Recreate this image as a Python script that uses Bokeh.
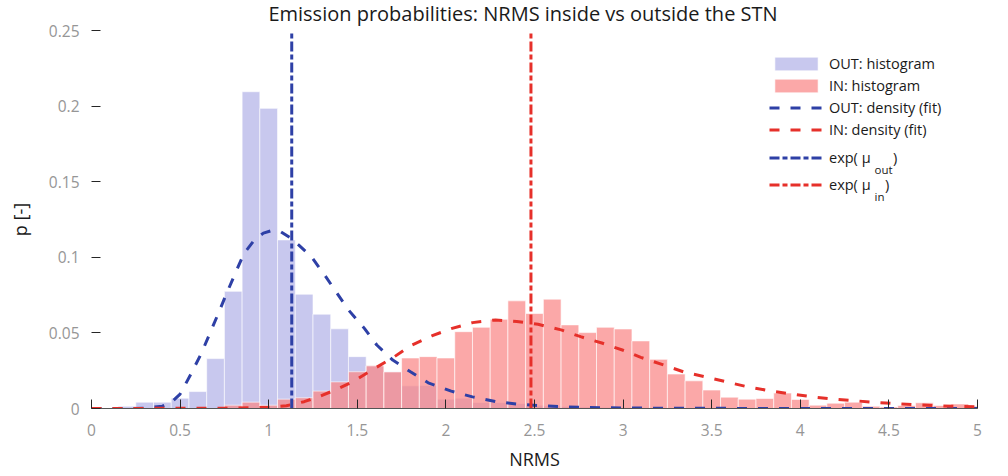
from bokeh.plotting import figure
from bokeh.models import Range1d, FixedTicker, Legend, LegendItem, Label
from bokeh.embed import file_html
from bokeh.resources import INLINE

# ---------------- data ----------------
bin_centers = [0.2, 0.3, 0.4, 0.5, 0.6, 0.7, 0.8, 0.9, 1.0, 1.1,
               1.2, 1.3, 1.4, 1.5, 1.6, 1.7, 1.8, 1.9, 2.0, 2.1,
               2.2, 2.3, 2.4, 2.5, 2.6, 2.7, 2.8, 2.9, 3.0, 3.1,
               3.2, 3.3, 3.4, 3.5, 3.6, 3.7, 3.8, 3.9, 4.0, 4.1,
               4.2, 4.3, 4.4, 4.5, 4.6, 4.7, 4.8, 4.9, 5.0]
bin_width = 0.1

out_hist = [0.0015, 0.0042, 0.0042, 0.0068, 0.0112, 0.0330, 0.0775, 0.2095, 0.1985, 0.1115,
            0.0756, 0.0624, 0.0527, 0.0343, 0.0283, 0.0243, 0.0150, 0.0152, 0.0062, 0.0068,
            0.0040, 0.0040, 0.0033, 0.0022, 0.0018, 0.0013, 0.0010, 0.0008, 0.0006, 0.0005,
            0.0004, 0.0003, 0.0003, 0.0002, 0.0002, 0.0001, 0.0001, 0.0001, 0.0001, 0.0,
            0.0001, 0.0, 0.0, 0.0, 0.0, 0.0, 0.0, 0.0, 0.0]

in_hist = [0.0, 0.0, 0.0, 0.0, 0.0, 0.0, 0.0022, 0.0042, 0.0022, 0.0062,
           0.0071, 0.0115, 0.0176, 0.0243, 0.0282, 0.0242, 0.0334, 0.0343, 0.0334, 0.0508,
           0.0537, 0.0590, 0.0712, 0.0628, 0.0723, 0.0553, 0.0502, 0.0537, 0.0526, 0.0447,
           0.0325, 0.0228, 0.0183, 0.0122, 0.0075, 0.0062, 0.0066, 0.0102, 0.0060, 0.0022,
           0.0035, 0.0042, 0.0015, 0.0010, 0.0020, 0.0038, 0.0020, 0.0030, 0.0015]

out_fit_x = [0.0, 0.2, 0.3, 0.4, 0.45, 0.5, 0.56, 0.62, 0.68, 0.72, 0.76, 0.81, 0.86,
             0.92, 0.97, 1.02, 1.07, 1.12, 1.17, 1.24, 1.32, 1.39, 1.45, 1.54, 1.61,
             1.70, 1.80, 1.90, 2.03, 2.15, 2.28, 2.40, 2.53, 2.77, 3.0, 3.5, 4.0, 4.5, 5.0]
out_fit_y = [0.0, 0.0, 0.0002, 0.0015, 0.004, 0.0095, 0.0225, 0.0365, 0.053, 0.064, 0.0755,
             0.089, 0.1025, 0.1115, 0.116, 0.1178, 0.1168, 0.113, 0.108, 0.1005, 0.0875,
             0.0755, 0.0652, 0.053, 0.042, 0.032, 0.0243, 0.017, 0.0115, 0.0077, 0.0046,
             0.0029, 0.0018, 0.0007, 0.0003, 0.0001, 0.0, 0.0, 0.0]

in_fit_x = [0.0, 0.8, 1.0, 1.1, 1.2, 1.28, 1.38, 1.48, 1.59, 1.70, 1.80, 1.92, 2.03,
            2.15, 2.28, 2.40, 2.52, 2.65, 2.76, 2.88, 3.0, 3.1, 3.23, 3.34, 3.46, 3.58,
            3.70, 3.83, 3.95, 4.07, 4.19, 4.31, 4.43, 4.56, 4.67, 4.79, 4.92, 5.0]
in_fit_y = [0.0, 0.0002, 0.0008, 0.0018, 0.0045, 0.0077, 0.0125, 0.018, 0.026, 0.0335,
            0.0415, 0.048, 0.0528, 0.0568, 0.0586, 0.0575, 0.0557, 0.052, 0.0475, 0.0433,
            0.0385, 0.0338, 0.0287, 0.0243, 0.021, 0.0177, 0.0144, 0.0117, 0.0095, 0.0077,
            0.0062, 0.0051, 0.004, 0.0031, 0.0024, 0.0018, 0.0013, 0.0011]

exp_mu_out = 1.13
exp_mu_in = 2.48

x_ticks = [0, 0.5, 1, 1.5, 2, 2.5, 3, 3.5, 4, 4.5, 5]
x_tick_labels = ["0", "0.5", "1", "1.5", "2", "2.5", "3", "3.5", "4", "4.5", "5"]
y_ticks = [0, 0.05, 0.1, 0.15, 0.2, 0.25]
y_tick_labels = ["0", "0.05", "0.1", "0.15", "0.2", "0.25"]

title_text = "Emission probabilities: NRMS inside vs outside the STN"
x_label = "NRMS"
y_label = "p [-]"
legend_labels = ["OUT: histogram", "IN: histogram", "OUT: density (fit)",
                 "IN: density (fit)", "exp( \u03bc", "exp( \u03bc"]
sub_labels = ["out", "in"]

# ---------------- styling / layout ----------------
FONT = "Open Sans"
BLUE = "#2e40a6"
RED = "#e6302a"
W, H = 1000, 474
ML, MR, MT, MB = 91, 23, 30, 66

p = figure(width=W, height=H, x_range=Range1d(x_ticks[0], x_ticks[-1]),
           y_range=Range1d(y_ticks[0], y_ticks[-1]),
           output_backend="svg", toolbar_location=None,
           min_border_left=ML, min_border_right=MR, min_border_top=MT, min_border_bottom=MB)
p.outline_line_color = None
p.xgrid.visible = False
p.ygrid.visible = False
p.background_fill_color = "white"
p.border_fill_color = "white"

r_out_h = p.vbar(x=bin_centers, top=out_hist, width=bin_width, bottom=0,
                 fill_color="#8585d9", fill_alpha=0.45,
                 line_color="white", line_alpha=0.6, line_width=1)
r_in_h = p.vbar(x=bin_centers, top=in_hist, width=bin_width, bottom=0,
                fill_color="#fa8686", fill_alpha=0.72,
                line_color="white", line_alpha=0.6, line_width=1)
r_out_f = p.line(out_fit_x, out_fit_y, line_color=BLUE, line_width=3, line_dash="10 11")
r_in_f = p.line(in_fit_x, in_fit_y, line_color=RED, line_width=3, line_dash="10 11")
r_out_m = p.segment(x0=[exp_mu_out], y0=[y_ticks[0]], x1=[exp_mu_out], y1=[y_ticks[-1]],
                    line_color=BLUE, line_width=3, line_dash="10 3 5 3")
r_in_m = p.segment(x0=[exp_mu_in], y0=[y_ticks[0]], x1=[exp_mu_in], y1=[y_ticks[-1]],
                   line_color=RED, line_width=3, line_dash="10 3 5 3")

# axes
for ax in (p.xaxis[0], p.yaxis[0]):
    ax.major_tick_in = 9
    ax.major_tick_out = 0
    ax.minor_tick_in = 0
    ax.minor_tick_out = 0
    ax.major_tick_line_color = "#262626"
    ax.major_label_text_font = FONT
    ax.major_label_text_font_size = "15.5px"
    ax.major_label_text_color = "#969696"
    ax.axis_label_text_font = FONT
    ax.axis_label_text_font_size = "18px"
    ax.axis_label_text_font_style = "normal"
    ax.axis_label_text_color = "#1a1a1a"

p.xaxis.ticker = FixedTicker(ticks=x_ticks)
p.xaxis.major_label_overrides = dict(zip(x_ticks, x_tick_labels))
p.xaxis.axis_label = x_label
p.xaxis.major_label_standoff = 15
p.xaxis.axis_label_standoff = 8
p.xaxis.axis_line_color = "#555555"

p.yaxis.ticker = FixedTicker(ticks=y_ticks)
p.yaxis.major_label_overrides = dict(zip(y_ticks, y_tick_labels))
p.yaxis.axis_label = y_label
p.yaxis.major_label_standoff = 12
p.yaxis.axis_label_standoff = 14
p.yaxis.axis_line_color = None

# title, placed in the panel above the frame (screen px relative to that panel)
p.add_layout(Label(x=431.5, y=17, x_units="screen", y_units="screen", text=title_text,
                   text_font=FONT, text_font_size="20px", text_color="#1a1a1a",
                   text_align="center", text_baseline="middle"), "above")

# legends (positions in screen pixels relative to the plot frame)
common = dict(glyph_width=54, glyph_height=17, label_height=20, label_standoff=6,
              padding=0, margin=0, border_line_color=None, background_fill_alpha=0,
              label_text_font=FONT, label_text_font_size="14.5px",
              label_text_color="#1a1a1a")
leg_x = 678
leg1 = Legend(items=[LegendItem(label=legend_labels[0], renderers=[r_out_h]),
                     LegendItem(label=legend_labels[1], renderers=[r_in_h]),
                     LegendItem(label=legend_labels[2], renderers=[r_out_f]),
                     LegendItem(label=legend_labels[3], renderers=[r_in_f])],
              spacing=2, location=(leg_x, 268.7), **common)
leg2 = Legend(items=[LegendItem(label=legend_labels[4], renderers=[r_out_m]),
                     LegendItem(label=legend_labels[5], renderers=[r_in_m])],
              spacing=7, location=(leg_x, 213.9), **common)
p.add_layout(leg1)
p.add_layout(leg2)

# subscripts of the two "exp( mu" legend labels
sub_x = 783
for lbl, y_sub, close_x, y_close in ((sub_labels[0], 239.4, 801.5, 251.1),
                                     (sub_labels[1], 211.9, 793.5, 223.7)):
    p.add_layout(Label(x=sub_x, y=y_sub, x_units="screen", y_units="screen", text=lbl,
                       text_font=FONT, text_font_size="11.5px", text_color="#1a1a1a",
                       text_baseline="alphabetic", text_align="left"))
    p.add_layout(Label(x=close_x, y=y_close, x_units="screen", y_units="screen",
                       text=")", text_font=FONT, text_font_size="14.5px", text_color="#1a1a1a",
                       text_baseline="middle", text_align="left"))

open("out.html", "w").write(file_html(p, INLINE))
